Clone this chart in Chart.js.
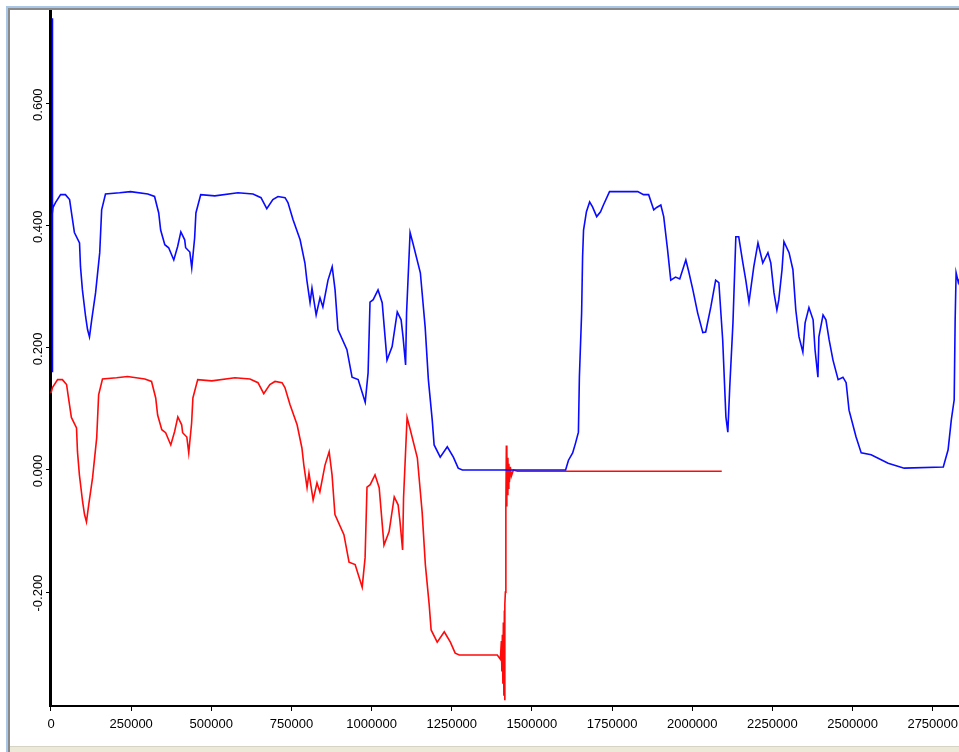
<!DOCTYPE html>
<html>
<head>
<meta charset="utf-8">
<script src="https://cdn.jsdelivr.net/npm/chart.js@4.4.0/dist/chart.umd.min.js"></script>
<style>
  html, body { margin: 0; padding: 0; background: #fff; }
  body { width: 959px; height: 752px; position: relative; overflow: hidden; }
  .frame-top { position: absolute; left: 6px; top: 6px; right: 0; height: 2px; background: #a9c6e6; }
  .frame-top2 { position: absolute; left: 8px; top: 8px; right: 0; height: 2px; background: #8a8a8a; }
  .frame-left { position: absolute; left: 6px; top: 6px; width: 2px; bottom: 0; background: #a9c6e6; }
  .frame-left2 { position: absolute; left: 8px; top: 8px; width: 2px; bottom: 0; background: #8a8a8a; }
  .frame-bottom { position: absolute; left: 10px; right: 0; top: 746px; bottom: 0; background: #ece9d8; border-top: 1px solid #d6d3c4; }
  #chart { position: absolute; left: 0; top: 0; }
</style>
</head>
<body>
<div class="frame-top"></div>
<div class="frame-top2"></div>
<div class="frame-left"></div>
<div class="frame-left2"></div>
<div class="frame-bottom"></div>
<canvas id="chart" width="959" height="752"></canvas>
<script>
// Signal traces
const blueX = [
  3600, 4000, 4300, 4600, 4900, 5200, 6500, 14000, 30000, 45000, 58000, 64000, 73000, 89000, 92000, 98000,
  108000, 114000, 120000, 127000, 139000, 152000, 158000, 170000, 214000, 248000, 302000, 323000, 336000,
  342000, 355000, 367000, 383000, 395000, 405000, 417000, 420000, 433000, 439000, 448000, 452000, 467000,
  511000, 583000, 630000, 655000, 673000, 692000, 708000, 730000, 739000, 755000, 777000, 792000, 798000,
  808000, 814000, 827000, 839000, 848000, 864000, 877000, 886000, 895000, 923000, 939000, 958000, 980000,
  989000, 995000, 1005000, 1020000, 1033000, 1048000, 1064000, 1080000, 1092000, 1098000, 1106000, 1109000,
  1120000, 1130000, 1152000, 1167000, 1177000, 1189000, 1195000, 1214000, 1236000, 1255000, 1270000, 1283000,
  1605000, 1614000, 1627000, 1636000, 1645000, 1648000, 1655000, 1658000, 1661000, 1670000, 1680000, 1689000,
  1702000, 1714000, 1723000, 1742000, 1830000, 1848000, 1864000, 1880000, 1889000, 1902000, 1911000, 1923000,
  1933000, 1948000, 1961000, 1980000, 1989000, 2002000, 2017000, 2033000, 2042000, 2058000, 2073000, 2083000,
  2095000, 2105000, 2111000, 2117000, 2127000, 2136000, 2145000, 2158000, 2167000, 2177000, 2192000, 2205000,
  2220000, 2236000, 2245000, 2255000, 2264000, 2270000, 2280000, 2286000, 2302000, 2314000, 2323000, 2333000,
  2345000, 2352000, 2364000, 2377000, 2383000, 2392000, 2395000, 2408000, 2417000, 2427000, 2439000, 2455000,
  2470000, 2480000, 2489000, 2511000, 2527000, 2558000, 2611000, 2661000, 2783000, 2798000, 2808000, 2817000,
  2820000, 2823000, 2830000, 2836000
];
const blueY = [
  0.420, 0.740, 0.500, 0.160, 0.590, 0.420, 0.430, 0.438, 0.451, 0.451, 0.443, 0.421, 0.389, 0.372, 0.333, 0.295,
  0.251, 0.230, 0.218, 0.246, 0.290, 0.356, 0.426, 0.452, 0.454, 0.456, 0.452, 0.448, 0.421,
  0.393, 0.369, 0.364, 0.344, 0.366, 0.390, 0.377, 0.364, 0.357, 0.331, 0.380, 0.421, 0.451,
  0.449, 0.454, 0.452, 0.446, 0.428, 0.443, 0.448, 0.446, 0.438, 0.410, 0.377, 0.339, 0.311,
  0.274, 0.298, 0.254, 0.282, 0.267, 0.311, 0.333, 0.295, 0.230, 0.197, 0.152, 0.148, 0.111,
  0.159, 0.275, 0.279, 0.295, 0.274, 0.180, 0.202, 0.259, 0.246, 0.218, 0.172, 0.257,
  0.389, 0.369, 0.323, 0.234, 0.148, 0.082, 0.041, 0.021, 0.038, 0.021, 0.003, 0.000,
  0.000, 0.016, 0.028, 0.044, 0.062, 0.152, 0.257, 0.349, 0.393, 0.423, 0.439, 0.431,
  0.415, 0.423, 0.434, 0.456, 0.456, 0.451, 0.451, 0.426, 0.430, 0.434, 0.415, 0.361,
  0.311, 0.316, 0.313, 0.344, 0.325, 0.295, 0.257, 0.225, 0.226, 0.267, 0.311, 0.307,
  0.213, 0.087, 0.062, 0.136, 0.241, 0.382, 0.382, 0.339, 0.311, 0.275, 0.333, 0.372,
  0.339, 0.356, 0.339, 0.290, 0.262, 0.279, 0.328, 0.374, 0.356, 0.328, 0.262, 0.218,
  0.193, 0.241, 0.266, 0.246, 0.197, 0.152, 0.218, 0.254, 0.246, 0.213, 0.180, 0.148,
  0.152, 0.143, 0.098, 0.054, 0.028, 0.025, 0.011, 0.003, 0.005, 0.033, 0.082, 0.115,
  0.246, 0.323, 0.307, 0.316
];

const redX = [
  0, 4600, 20600, 35600, 48600, 54600, 63600, 79600, 82600, 88600, 98600, 104600, 110600, 117600, 129600,
  142600, 148600, 160600, 204600, 238600, 292600, 313600, 326600, 332600, 345600, 357600, 373600, 385600,
  395600, 407600, 410600, 423600, 429600, 438600, 442600, 457600, 501600, 573600, 620600, 645600, 663600,
  682600, 698600, 720600, 729600, 745600, 767600, 782600, 788600, 798600, 804600, 817600, 829600, 838600,
  854600, 867600, 876600, 885600, 913600, 929600, 948600, 970600, 979600, 985600, 995600, 1010600, 1023600,
  1038600, 1054600, 1070600, 1082600, 1088600, 1096600, 1099600, 1110600, 1120600, 1142600, 1157600,
  1167600, 1179600, 1185600, 1204600, 1226600, 1245600, 1260600, 1273600, 1392000,
  1401500, 1404700, 1406200, 1407800, 1409400, 1410900, 1412500, 1414100, 1415000, 1416000, 1417200,
  1418700, 1420300, 1421200, 1422200, 1423400, 1425000, 1426600, 1428100, 1429700, 1432800, 1435900,
  1442200, 1454700, 2092000
];
const redY = [
  0.126, 0.135, 0.148, 0.148, 0.140, 0.118, 0.086, 0.069, 0.030, -0.008, -0.052, -0.073, -0.085, -0.057, -0.013,
  0.053, 0.123, 0.149, 0.151, 0.153, 0.149, 0.145, 0.118, 0.090, 0.066, 0.061, 0.041, 0.063,
  0.087, 0.074, 0.061, 0.054, 0.028, 0.077, 0.118, 0.148, 0.146, 0.151, 0.149, 0.143, 0.125,
  0.140, 0.145, 0.143, 0.135, 0.107, 0.074, 0.036, 0.008, -0.029, -0.005, -0.049, -0.021, -0.036,
  0.008, 0.030, -0.008, -0.073, -0.106, -0.151, -0.155, -0.192, -0.144, -0.028, -0.024, -0.008, -0.029,
  -0.123, -0.101, -0.044, -0.057, -0.085, -0.131, -0.046, 0.086, 0.066, 0.020, -0.069,
  -0.155, -0.221, -0.262, -0.282, -0.265, -0.282, -0.300, -0.303, -0.303,
  -0.310, -0.280, -0.330, -0.270, -0.350, -0.250, -0.370, -0.230, -0.377, -0.220, -0.200,
  -0.060, 0.040, -0.060, 0.030, -0.040, 0.020, -0.030, 0.010, -0.020, 0.005, -0.010,
  0.000, -0.002, -0.002
];

const xTicks = [0, 250000, 500000, 750000, 1000000, 1250000, 1500000, 1750000, 2000000, 2250000, 2500000, 2750000];
const yTicks = [-0.2, 0, 0.2, 0.4, 0.6];

const toPoints = (xs, ys) => xs.map((x, i) => ({ x, y: ys[i] }));
const labelFont = { family: '"Liberation Sans", Arial, sans-serif', size: 13 };

// y labels are drawn rotated, reading upward
const yLabelPlugin = {
  id: 'yLabels',
  afterDraw(chart) {
    const { ctx } = chart;
    const scale = chart.scales.y;
    ctx.save();
    ctx.fillStyle = '#000';
    ctx.font = `${labelFont.size}px ${labelFont.family}`;
    ctx.textAlign = 'center';
    ctx.textBaseline = 'middle';
    yTicks.forEach(v => {
      const py = scale.getPixelForValue(v);
      ctx.save();
      ctx.translate(38, py + 1);
      ctx.rotate(-Math.PI / 2);
      ctx.fillText(v.toFixed(3), 0, 0);
      ctx.restore();
    });
    ctx.restore();
  }
};

// no extra side padding: the plot runs to the right edge of the window
const noSidePadding = s => { s.paddingLeft = 0; s.paddingRight = 0; s.paddingTop = 0; s.paddingBottom = 0; };

new Chart(document.getElementById('chart'), {
  type: 'line',
  data: {
    datasets: [
      { data: toPoints(blueX, blueY), borderColor: '#0a0aff', borderWidth: 1.6, pointRadius: 0, tension: 0, fill: false },
      { data: toPoints(redX, redY), borderColor: '#ff0a0a', borderWidth: 1.6, pointRadius: 0, tension: 0, fill: false }
    ]
  },
  options: {
    responsive: false,
    animation: false,
    events: [],
    layout: { padding: { top: 11, right: 0, bottom: 0, left: 0 } },
    plugins: { legend: { display: false }, tooltip: { enabled: false } },
    scales: {
      x: {
        type: 'linear',
        min: -3100,
        max: 2832000,
        afterBuildTicks: s => { s.ticks = xTicks.map(v => ({ value: v })); },
        afterFit: s => { s.height = 46; noSidePadding(s); },
        ticks: { color: '#000', font: labelFont, padding: 6, maxRotation: 0, autoSkip: false, callback: v => String(v) },
        grid: { drawOnChartArea: false, drawTicks: true, tickLength: 5, color: '#000', lineWidth: 1 },
        border: { color: '#000', width: 2 }
      },
      y: {
        type: 'linear',
        min: -0.3866,
        max: 0.7518,
        afterBuildTicks: s => { s.ticks = yTicks.map(v => ({ value: v })); },
        afterFit: s => { s.width = 50; noSidePadding(s); },
        ticks: { display: false },
        grid: { drawOnChartArea: false, drawTicks: true, tickLength: 4, color: '#000', lineWidth: 1 },
        border: { color: '#000', width: 3 }
      }
    }
  },
  plugins: [yLabelPlugin]
});
</script>
</body>
</html>
